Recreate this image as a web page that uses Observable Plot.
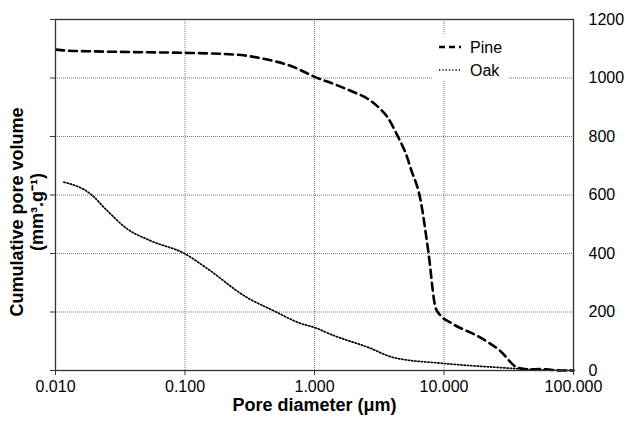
<!DOCTYPE html>
<html><head><meta charset="utf-8">
<script src="https://cdn.jsdelivr.net/npm/d3@7"></script>
<script src="https://cdn.jsdelivr.net/npm/@observablehq/plot@0.6"></script>
<style>
body{margin:0;background:#fff}
#wrap{position:relative;width:625px;height:422px;font-family:"Liberation Sans",Arial,sans-serif;color:#000}
#legend{position:absolute;left:433px;top:35px;background:#fff}
</style>
</head><body><div id="wrap"></div>
<script>
const pineDiameter = [0.0101,0.012,0.02,0.05,0.1,0.2,0.29,0.43,0.65,0.78,1.0,1.4,2.0,2.57,3.12,3.66,4.37,5.23,5.5,6.6,7.6,8.6,9.4,11.2,19,27,37,45,55,65,80,100];
const pineVolume   = [1097,1094,1091,1088,1086,1082,1077,1063,1042,1027,1004,980,952,929,900,866,803,725,694,581,400,215,188,164,113,68,10,4,5,3,0,0];
const oakDiameter = [0.0116,0.0186,0.025,0.0358,0.054,0.1,0.148,0.3,0.48,0.78,1.0,1.4,2.6,4.1,10,27,50,100];
const oakVolume   = [644,604,547,484,444,399,349,250,205,161,147,120,79,44,24,10,3,0];
const xTicks = [0.01,0.1,1,10,100];
const yTicks = [0,200,400,600,800,1000,1200];
const seriesNames = ["Pine","Oak"];
const xTitle = "Pore diameter (μm)";
const yTitle = "Cumulative pore volume\n(mm³.g⁻¹)";

const pine = pineDiameter.map((d,i)=>({d, v:pineVolume[i]}));
const oak = oakDiameter.map((d,i)=>({d, v:oakVolume[i]}));
const font = '"Liberation Sans",Arial,sans-serif';

const chart = Plot.plot({
  width:625, height:422,
  marginLeft:55, marginRight:52, marginTop:19, marginBottom:52,
  style:{fontFamily:font, fontSize:"16px", color:"#000", background:"#fff"},
  x:{type:"log", domain:[0.01,100]},
  y:{domain:[0,1200]},
  marks:[
    Plot.gridX(xTicks,{stroke:"#777", strokeOpacity:1, strokeWidth:1, strokeDasharray:"1,1"}),
    Plot.gridY(yTicks,{stroke:"#777", strokeOpacity:1, strokeWidth:1, strokeDasharray:"1,1"}),
    Plot.line(oak,{x:"d", y:"v", stroke:"#000", strokeWidth:1.7, strokeDasharray:"1.3,2", curve:"monotone-x"}),
    Plot.line(pine,{x:"d", y:"v", stroke:"#000", strokeWidth:2.6, strokeDasharray:"8,5", curve:"monotone-x"}),
    Plot.frame({stroke:"#333", strokeWidth:1.3}),
    Plot.axisX(xTicks,{tickSize:5, tickPadding:5, tickFormat:d3.format(".3f"), fontSize:16, label:null, stroke:"#333"}),
    Plot.axisY(yTicks,{anchor:"left", tickSize:5, tickFormat:()=>"", label:null, stroke:"#333"}),
    Plot.axisY(yTicks,{anchor:"right", tickSize:0, tickPadding:15, tickFormat:d3.format("d"), fontSize:16, label:null}),
    Plot.text([xTitle],{frameAnchor:"bottom", dy:40, fontWeight:"bold", fontSize:18, fill:"#000"}),
    Plot.text([yTitle],{frameAnchor:"left", textAnchor:"middle", rotate:-90, dx:-29, dy:17, fontWeight:"bold", fontSize:18, lineHeight:1.1, fill:"#000"})
  ]
});
const wrap = document.getElementById("wrap");
wrap.appendChild(chart);

// legend overlay
const dashes = ["6,4","1.3,2"];
const widths = [2.6,1.7];
const leg = d3.select(wrap).append("svg").attr("id","legend")
  .attr("width",75).attr("height",45).style("font-family",font);
seriesNames.forEach((name,i)=>{
  const cy = 12 + i*23;
  leg.append("line").attr("x1",6).attr("x2",28).attr("y1",cy).attr("y2",cy)
    .attr("stroke","#000").attr("stroke-width",widths[i]).attr("stroke-dasharray",dashes[i]);
  leg.append("text").attr("x",37).attr("y",cy).attr("dy","0.35em")
    .attr("font-size",16).text(name);
});
</script>
</body></html>
